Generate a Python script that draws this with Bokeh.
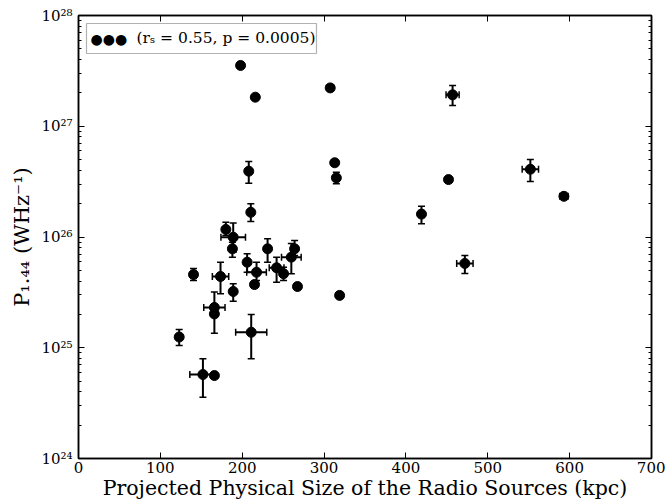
import numpy as np
from bokeh.plotting import figure
from bokeh.models import (ColumnDataSource, Whisker, TeeHead, FixedTicker, LogAxis, LinearAxis,
                          CustomJSTickFormatter, Label, BoxAnnotation, Range1d)
from bokeh.embed import file_html
from bokeh.resources import INLINE

nan = float("nan")

# Projected physical size (kpc)
size_kpc = [198, 216, 307.5, 457, 313, 315, 452, 552, 593, 419, 472, 319, 208, 210.5, 180,
            189, 188, 140.5, 173.5, 206, 217.5, 215, 231, 242, 250.5, 260, 264, 267.5, 189,
            166, 166, 211, 123, 152, 166]
# Radio power P_1.44 (W/Hz)
power = [3.54e27, 1.83e27, 2.22e27, 1.92e27, 4.68e26, 3.42e26, 3.30e26, 4.09e26, 2.33e26,
         1.61e26, 5.77e25, 2.97e25, 3.93e26, 1.67e26, 1.17e26, 9.95e25, 7.82e25, 4.58e25,
         4.40e25, 5.92e25, 4.81e25, 3.72e25, 7.82e25, 5.27e25, 4.66e25, 6.58e25, 7.82e25,
         3.57e25, 3.22e25, 2.31e25, 2.02e25, 1.38e25, 1.25e25, 5.73e24, 5.61e24]
# lower / upper end of the power error bars (nan = none)
power_lo = [nan, nan, nan, 1.54e27, nan, 3.02e26, nan, 3.17e26, nan, 1.32e26, 4.68e25, nan,
            3.06e26, 1.38e26, 1.03e26, 7.3e25, 6.58e25, 4.04e25, 3.07e25, 4.81e25, 4.04e25,
            nan, 5.92e25, 3.91e25, 4.04e25, 4.66e25, 6.81e25, nan, 2.63e25, 1.35e25, nan,
            7.94e24, 1.05e25, 3.57e24, nan]
power_hi = [nan, nan, nan, 2.33e27, nan, 3.85e26, nan, 5.01e26, nan, 1.90e26, 6.81e25, nan,
            4.81e26, 2.0e26, 1.36e26, 1.34e26, 8.98e25, 5.2e25, 5.92e25, 7.05e25, 5.92e25,
            nan, 9.63e25, 6.58e25, 5.33e25, 8.73e25, 9.29e25, nan, 3.78e25, 3.18e25, nan,
            2.0e25, 1.46e25, 7.94e24, nan]
# symmetric size error (kpc), 0 = none
size_err = [0, 0, 0, 8, 0, 0, 0, 10, 5, 0, 10, 0, 0, 0, 0, 15, 0, 0, 10, 0, 12, 0, 0, 9, 0,
            12, 0, 0, 0, 13, 0, 19, 0, 16, 0]

x_ticks = [0, 100, 200, 300, 400, 500, 600, 700]
y_ticks = [1e24, 1e25, 1e26, 1e27, 1e28]
y_minor = [m * 10.0 ** e for e in range(24, 28) for m in range(2, 10)]

legend_text = "(r\u209b = 0.55, p = 0.0005)"

FONT = "DejaVu Serif"

x = np.array(size_kpc, dtype=float)
y = np.array(power, dtype=float)
ylo = np.array(power_lo, dtype=float)
yhi = np.array(power_hi, dtype=float)
xe = np.array(size_err, dtype=float)

p = figure(width=665, height=503, y_axis_type="log", output_backend="svg",
           toolbar_location=None, x_range=Range1d(0, 700), y_range=Range1d(1e24, 1e28),
           min_border_left=78, min_border_right=14, min_border_top=15, min_border_bottom=45)
p.background_fill_color = "white"
p.border_fill_color = "white"
p.grid.visible = False
p.outline_line_color = "black"
p.outline_line_width = 1.5

# error bars
my = ~np.isnan(ylo)
ysrc = ColumnDataSource(dict(x=x[my], lo=ylo[my], hi=yhi[my]))
p.add_layout(Whisker(source=ysrc, base="x", lower="lo", upper="hi", dimension="height",
                     line_color="black", line_width=2,
                     upper_head=TeeHead(size=7, line_color="black", line_width=1.5),
                     lower_head=TeeHead(size=7, line_color="black", line_width=1.5)))
mx = xe > 0
xsrc = ColumnDataSource(dict(y=y[mx], lo=x[mx] - xe[mx], hi=x[mx] + xe[mx]))
p.add_layout(Whisker(source=xsrc, base="y", lower="lo", upper="hi", dimension="width",
                     line_color="black", line_width=2,
                     upper_head=TeeHead(size=7, line_color="black", line_width=1.5),
                     lower_head=TeeHead(size=7, line_color="black", line_width=1.5)))

src = ColumnDataSource(dict(x=x, y=y))
p.scatter("x", "y", source=src, size=10, fill_color="black", line_color="black")

sup_fmt = CustomJSTickFormatter(code="""
const sup = {"0":"\u2070","1":"\u00b9","2":"\u00b2","3":"\u00b3","4":"\u2074","5":"\u2075",
             "6":"\u2076","7":"\u2077","8":"\u2078","9":"\u2079","-":"\u207b"};
const e = Math.round(Math.log10(tick));
return "10" + String(e).split("").map(c => sup[c]).join("");
""")
blank_fmt = CustomJSTickFormatter(code="return '';")

def style(ax, show):
    ax.axis_line_color = "black"
    ax.axis_line_width = 1.5
    ax.major_tick_line_color = "black"
    ax.minor_tick_line_color = "black"
    ax.major_tick_in = 6
    ax.major_tick_out = 0
    ax.minor_tick_in = 3
    ax.minor_tick_out = 0
    ax.major_label_text_font = FONT
    ax.axis_label_text_font = FONT
    ax.axis_label_text_font_style = "normal"
    ax.axis_label_text_color = "black"
    ax.major_label_text_color = "black"
    if not show:
        ax.formatter = blank_fmt
        ax.major_label_standoff = 0

# bottom
xa = p.xaxis[0]
style(xa, True)
xa.ticker = FixedTicker(ticks=x_ticks)
xa.minor_tick_line_color = None
xa.major_label_text_font_size = "15px"
xa.major_label_standoff = 3
xa.axis_label = "Projected Physical Size of the Radio Sources (kpc)"
xa.axis_label_text_font_size = "20.5px"
xa.axis_label_standoff = 0

# left
ya = p.yaxis[0]
style(ya, True)
ya.ticker = FixedTicker(ticks=y_ticks, minor_ticks=y_minor)
ya.formatter = sup_fmt
ya.major_label_text_font_size = "15px"
ya.major_label_standoff = 6
ya.axis_label = "P\u2081.\u2084\u2084 (WHz\u207b\u00b9)"
ya.axis_label_text_font_size = "21px"
ya.axis_label_standoff = 4

# top & right (ticks only)
ta = LinearAxis(ticker=FixedTicker(ticks=x_ticks))
style(ta, False)
ta.minor_tick_line_color = None
p.add_layout(ta, "above")
ra = LogAxis(ticker=FixedTicker(ticks=y_ticks, minor_ticks=y_minor))
style(ra, False)
p.add_layout(ra, "right")

# legend box
p.add_layout(BoxAnnotation(left=8, right=238, bottom=405, top=435,
                           left_units="screen", right_units="screen",
                           bottom_units="screen", top_units="screen",
                           fill_color="white", fill_alpha=1.0,
                           line_color="black", line_width=1.2, level="overlay"))
p.add_layout(Label(x=12, y=420, x_units="screen", y_units="screen", text="\u25cf\u25cf\u25cf",
                   text_font=FONT, text_font_size="14px", text_color="black",
                   text_baseline="middle", level="overlay"))
p.add_layout(Label(x=58, y=421, x_units="screen", y_units="screen", text=legend_text,
                   text_font=FONT, text_font_size="15.5px", text_color="black",
                   text_baseline="middle", level="overlay"))

open("out.html", "w").write(file_html(p, INLINE))
